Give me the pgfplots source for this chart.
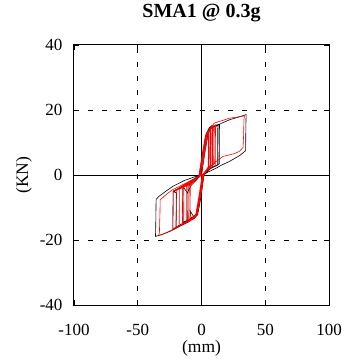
\documentclass[border=0pt]{standalone}
\usepackage{pgfplots}
\pgfplotsset{compat=1.18}
\usepackage{fontspec}
\setmainfont{Liberation Serif}

\begin{document}
\begin{tikzpicture}
\begin{axis}[
  at={(0,0)}, anchor=south west,
  scale only axis, width=255pt, height=260pt,
  xmin=-100, xmax=100, ymin=-40, ymax=40,
  xtick={-100,-50,0,50,100}, xticklabels={-100,-50,0,50,100},
  ytick={-40,-20,0,20,40}, yticklabels={-40,-20,0,20,40},
  tick align=inside, major tick length=5pt,
  tick style={black, line width=0.6pt},
  axis line style={line width=1pt},
  ticklabel style={font=\fontsize{17}{19}\selectfont},
  xticklabel style={anchor=base, yshift=-30pt},
  yticklabel style={xshift=-8pt},
  xlabel={(mm)}, ylabel={(KN)},
  label style={font=\fontsize{17.5}{20}\selectfont},
  xlabel style={at={(axis description cs:0.5,-0.165)}, anchor=center},
  ylabel style={at={(axis description cs:-0.196,0.5)}, anchor=center},
  title={\textbf{SMA1 @ 0.3g}},
  title style={font=\fontsize{20}{23}\selectfont, at={(axis description cs:0.5,1)}, anchor=base, yshift=21pt},
  clip=false,
]
\draw[black, line width=0.6pt, dash pattern=on 5pt off 9pt] (axis cs:-50,-40) -- (axis cs:-50,40);
\draw[black, line width=0.6pt, dash pattern=on 5pt off 9pt] (axis cs:50,-40) -- (axis cs:50,40);
\draw[black, line width=0.6pt, dash pattern=on 5pt off 9pt] (axis cs:-100,-20) -- (axis cs:100,-20);
\draw[black, line width=0.6pt, dash pattern=on 5pt off 9pt] (axis cs:-100,20) -- (axis cs:100,20);
\draw[black, line width=0.8pt] (axis cs:0,-40) -- (axis cs:0,40);
\draw[black, line width=0.8pt] (axis cs:-100,0) -- (axis cs:100,0);

% black series
\addplot[black, line width=0.6pt, mark=none] coordinates {
(0,0) (2.5,6.8) (5,12.5) (7,14.2) (13,15.5) (12.8,3.2) (7,2) (2,0.3)
(-0.5,-6.6) (-3,-12) (-6,-13.3) (-10.8,-13.9) (-10.6,-3) (-5,-1.6) (-1,-0.1)
(1.5,6.5) (4,12.3) (6.5,14.3) (11,15.3) (14.1,15.6) (13.9,3.4) (8,2.3) (2,0.3)
(-0.5,-6.8) (-3,-12.2) (-6,-12.9) (-9,-11) (-8,-13.6) (-13,-14.5) (-19.9,-16) (-19.6,-5.5) (-21.5,-5.2) (-20,-4.6) (-12,-2.8) (-2,-0.2)
(1.5,6.8) (4,12.4) (7,14.6) (12.8,15.4) (12.6,3) (6,1.8) (2,0.2)
(-1,-6.8) (-3.5,-12.3) (-10,-14.4) (-16,-15.6) (-22.5,-16.8) (-22.2,-5) (-15,-3.4) (-2,-0.3)
(1,6.8) (3.5,12.5) (6,14.5) (8,15.2) (11.5,15.0) (15,15.8) (22,17.0) (28,17.7) (35,18.6) (34.8,15) (34.6,7.5) (30,6) (22,4.2) (16,3.1) (11.5,2.1) (5,0.9) (2,0.1)
(-0.5,-7) (-3,-12.2) (-6,-13.4) (-8,-13.6) (-15,-15.4) (-25,-17.4) (-31,-18.3) (-36.1,-18.9) (-35.9,-16) (-35.6,-7.5) (-33.5,-6.6) (-28,-5) (-22.5,-3.5) (-13.5,-1.7) (-5,-0.5) (-1.5,0)
(1,6.8) (3.5,12.4) (6.5,14.3) (9,14.8) (8.8,2.6) (4,1.2) (1,0.1)
(-1.5,-7) (-4,-12) (-9,-13.6) (-14.7,-14.6) (-14.5,-3.6) (-11,-5.5) (-8.1,-3.2) (-1,-0.3) (0,0)
};

% red series
\addplot[red, line width=0.6pt, mark=none] coordinates {
(0,0) (2.5,6.5) (5,12) (6,12.9) (5.8,2.7) (3,1.1) (1,0.1)
(-1.5,-6.3) (-4,-11.8) (-6,-13.2) (-9,-13.8) (-8.8,-3.1) (-4,-1.3) (-1.5,-0.1)
(1,6.4) (3.5,11.8) (5.5,13.5) (7.5,14.3) (7.3,3) (3.5,1.3) (1.5,0.2)
(-1,-6.5) (-3.5,-12) (-5.5,-13.2) (-12,-14.4) (-11.8,-3.5) (-6,-1.8) (-1,-0.1)
(1.5,6.5) (4,12.2) (6,13.9) (9,14.9) (8.8,3.3) (4.5,1.6) (2,0.2)
(-0.5,-6.4) (-3,-11.8) (-5,-13) (-10,-14.2) (-15,-15) (-14.8,-4) (-8,-2.4) (-1.5,-0.1)
(1,6.2) (3.5,11.8) (6,14) (11,15.4) (10.8,3.6) (10.7,2.9) (6,2) (2,0.3)
(-0.7,-6.5) (-3.2,-12) (-5.5,-13.4) (-12,-14.7) (-17.5,-15.6) (-17.3,-4.4) (-10,-2.8) (-2,-0.2)
(0.5,6.3) (3,11.9) (5,13.6) (8,14.6) (10,15.1) (9.8,3.4) (5,1.9) (1.5,0.2)
(-1.3,-6.5) (-3.8,-12) (-7,-13.6) (-14,-15.1) (-20,-16.1) (-19.8,-4.8) (-12,-3.1) (-2,-0.3)
(0.5,6.3) (3,11.8) (5,13.6) (8,15.0) (10.2,16.0) (15,16.6) (22,17.5) (28,17.8) (33.7,18.2) (33.3,17.0) (33,12) (32.6,8.5) (29.8,7.3) (26,6.6) (22,6.2) (16.7,5.7) (12,4.3) (8.9,3.2) (4,1.4) (1.5,0.2)
(-1,-6.4) (-3.5,-11.7) (-6,-13.3) (-9.4,-13.9) (-15,-15.3) (-22.5,-16.8) (-28,-17.8) (-33.5,-18.7) (-33,-17.5) (-32.6,-12) (-32.4,-7.6) (-27,-5.8) (-22.5,-4.5) (-17,-3.4) (-12.3,-2.5) (-5,-1) (-1.5,-0.1)
(1,6.4) (3.5,12) (6,14) (7,14.4) (6.8,2.9) (3,1.2) (1,0.1)
(-1.5,-6.3) (-4,-11.9) (-8,-13.7) (-16,-15.4) (-22.5,-16.5) (-22.2,-5.0) (-14,-3.2) (-5,-1.2) (-1,-0.1)
(1.5,6.5) (4,12.3) (5.5,13.6) (5.3,2.5) (2.5,0.9) (0.5,0)
(-2,-6.4) (-4.5,-12) (-7,-13.2) (-14,-14.8) (-13.8,-3.7) (-7,-2.2) (-1,-0.1)
(1.5,6.4) (4,12) (6,13.8) (8.5,14.6) (8.3,3) (4,1.5) (0.8,0.1)
(-1.7,-6.4) (-4.2,-11.9) (-6.5,-13.3) (-10,-13.9) (-9.8,-3.3) (-5,-1.5) (0,0)
};
\end{axis}
\pgfresetboundingbox
\path[use as bounding box] (-74pt,-59pt) rectangle (271pt,305pt);
\end{tikzpicture}
\end{document}
